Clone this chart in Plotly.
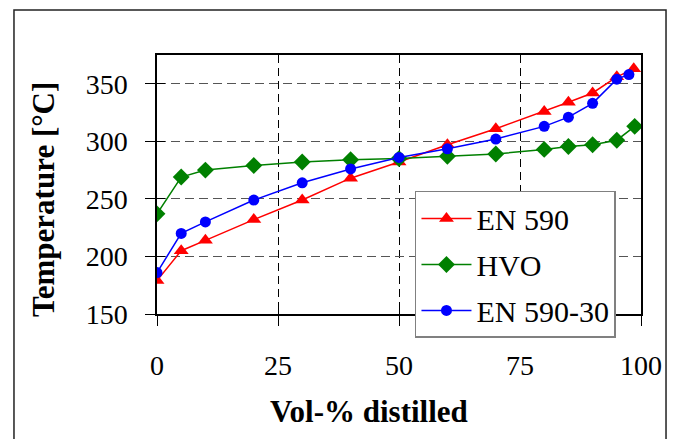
import plotly.graph_objects as go

# Data
x_en590 = [0, 5, 10, 20, 30, 40, 50, 60, 70, 80, 85, 90, 95, 98.5]
en590 = [179, 205, 214, 232, 249, 268, 282, 297, 311, 326, 334, 342, 356, 363]

x_hvo = [0, 5, 10, 20, 30, 40, 50, 60, 70, 80, 85, 90, 95, 98.7]
hvo = [237, 269, 275, 279, 282, 284, 285, 287, 289, 293, 295.5, 297, 301, 313]

x_en590_30 = [0, 5, 10, 20, 30, 40, 50, 60, 70, 80, 85, 90, 95, 97.5]
en590_30 = [186, 220, 230, 249, 264, 276, 286, 293.5, 302, 313, 321, 333, 354, 358]

x_ticks = [0, 25, 50, 75, 100]
y_ticks = [150, 200, 250, 300, 350]
x_range = [0, 100]
y_range = [150, 375]

FONT = "Liberation Serif"

fig = go.Figure()
fig.add_trace(go.Scatter(x=x_en590, y=en590, name="EN 590", mode="lines+markers",
                         legendgroup="a",
                         line=dict(color="#ff0000", width=1.5),
                         marker=dict(symbol="triangle-up", size=13, color="#ff0000")))
fig.add_trace(go.Scatter(x=x_hvo, y=hvo, name="HVO", mode="lines+markers",
                         legendgroup="b",
                         line=dict(color="#008000", width=1.5),
                         marker=dict(symbol="diamond", size=13, color="#008000")))
fig.add_trace(go.Scatter(x=x_en590_30, y=en590_30, name="EN 590-30", mode="lines+markers",
                         legendgroup="c",
                         line=dict(color="#0000ff", width=1.5),
                         marker=dict(symbol="circle", size=11, color="#0000ff")))

# page has an 8px body margin: figure is sized so it fits the window
fig.update_layout(
    width=668, height=431,
    margin=dict(l=149, r=35, t=47, b=125),
    paper_bgcolor="white", plot_bgcolor="white",
    font=dict(family=FONT, color="black", size=28),
    showlegend=True,
    legend=dict(x=0.533, y=0.475, xanchor="left", yanchor="top",
                bgcolor="white", bordercolor="#808080", borderwidth=1.5,
                font=dict(family=FONT, size=30, color="black"),
                tracegroupgap=4, itemwidth=50),
    xaxis=dict(range=x_range, tickvals=x_ticks, ticktext=[str(v) for v in x_ticks],
               showline=True, linecolor="black", linewidth=1.5, mirror=True,
               ticks="outside", ticklen=10, tickcolor="black", tickwidth=1,
               showgrid=True, gridcolor="black", gridwidth=1, griddash="8px,5px",
               zeroline=False, ticklabelstandoff=16,
               tickfont=dict(family=FONT, size=28, color="black")),
    yaxis=dict(range=y_range, tickvals=y_ticks, ticktext=[str(v) for v in y_ticks],
               showline=True, linecolor="black", linewidth=1.5, mirror=True,
               ticks="outside", ticklen=10, tickcolor="black", tickwidth=1,
               showgrid=True, gridcolor="#555555", gridwidth=1.2, griddash="9px,5px",
               zeroline=False, ticklabelstandoff=12,
               tickfont=dict(family=FONT, size=28, color="black")),
    xaxis2=dict(range=x_range, tickvals=x_ticks, overlaying="x", anchor="y",
                side="bottom", ticks="inside", ticklen=8, tickcolor="black",
                showticklabels=False, showgrid=False, zeroline=False, showline=False),
    yaxis2=dict(range=y_range, tickvals=y_ticks, overlaying="y", anchor="x",
                side="left", ticks="inside", ticklen=8, tickcolor="black",
                showticklabels=False, showgrid=False, zeroline=False, showline=False),
    annotations=[
        dict(text="<b>Vol-% distilled</b>", xref="paper", yref="paper",
             x=0.438, y=-0.378, xanchor="center", yanchor="middle", showarrow=False,
             font=dict(family=FONT, size=31, color="black")),
        dict(text="<b>Temperature [°C]</b>", xref="paper", yref="paper",
             x=-0.2355, y=0.44, xanchor="center", yanchor="middle", showarrow=False,
             textangle=-90, font=dict(family=FONT, size=31, color="black")),
    ],
    shapes=[
        dict(type="rect", xref="paper", yref="paper", x0=-0.2955, x1=1.0517,
             y0=-0.52, y1=1.1737, line=dict(color="#222222", width=1.5),
             fillcolor="rgba(0,0,0,0)", layer="below"),
    ],
)

# dummy invisible trace to make the overlay axes render
fig.add_trace(go.Scatter(x=[None], y=[None], xaxis="x2", yaxis="y2",
                         showlegend=False, hoverinfo="skip", mode="markers"))

fig.write_html("out.html")
